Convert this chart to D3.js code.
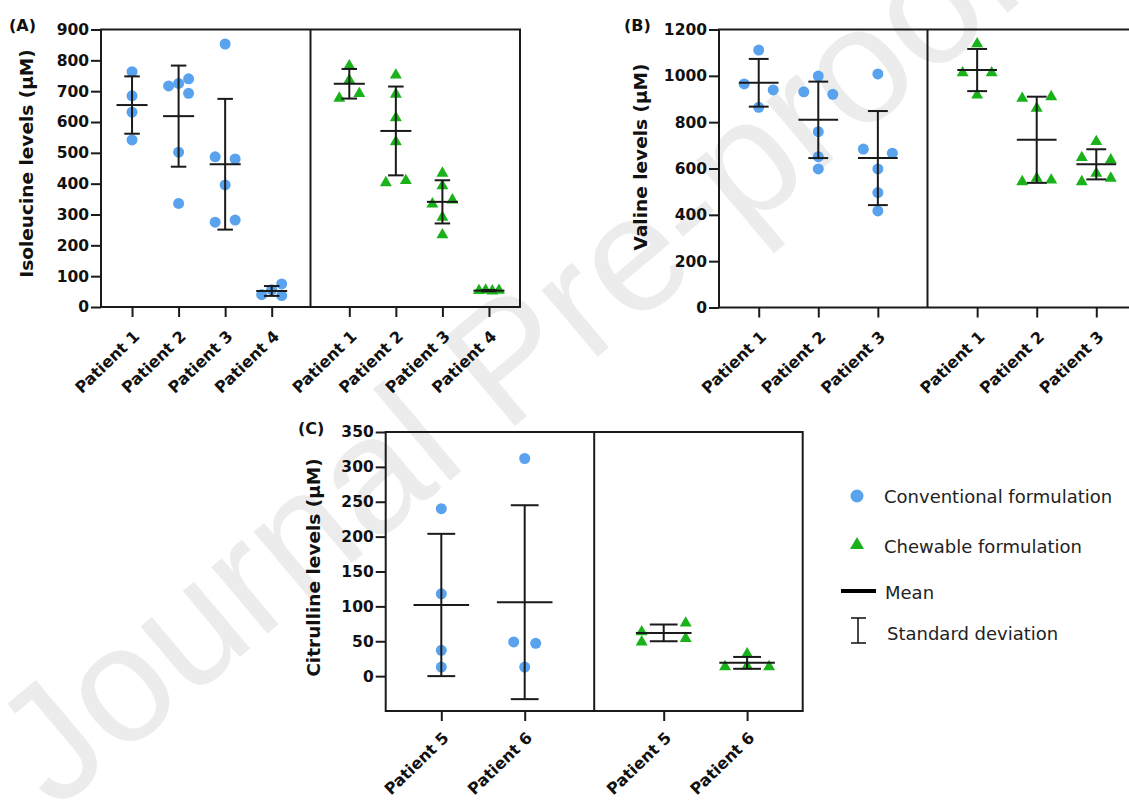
<!DOCTYPE html>
<html><head><meta charset="utf-8">
<script src="https://cdn.jsdelivr.net/npm/d3@7"></script>
<style>body{margin:0;background:#fff} svg{display:block}</style>
</head><body>
<svg id="chart" width="1129" height="800"></svg>
<script>
// ---------------- DATA ----------------
const patientsA = ["Patient 1","Patient 2","Patient 3","Patient 4"];
const isoConventional = [[763,685,632,542],[717,725,740,693,502,336],[853,487,480,396,275,282],[40,56,75,37]];
const isoConvMean = [655,619,463,52];
const isoConvSD = [93,164,212,16];
const isoChewable = [[782,736,677,692],[752,690,614,536,403,410],[434,393,334,347,291,234],[53,55,52,54]];
const isoChewMean = [724,571,341,53];
const isoChewSD = [48,144,70,2];
const isoTicks = [0,100,200,300,400,500,600,700,800,900];

const patientsB = ["Patient 1","Patient 2","Patient 3"];
const valConventional = [[1111,965,939,864],[999,931,920,759,651,598],[1008,684,666,598,496,417]];
const valConvMean = [970,810,645];
const valConvSD = [103,165,203];
const valChewable = [[1138,1013,1013,917],[903,910,860,543,558,550],[716,647,637,543,579,558]];
const valChewMean = [1025,724,618];
const valChewSD = [91,186,65];
const valTicks = [0,200,400,600,800,1000,1200];

const patientsC = ["Patient 5","Patient 6"];
const citConventional = [[240,118,37,13],[312,49,47,13]];
const citConvMean = [102,106];
const citConvSD = [102,139];
const citChewable = [[49,63.5,76,54],[13.4,14.3,32,13.4]];
const citChewMean = [62,19];
const citChewSD = [12,8.5];
const citTicks = [0,50,100,150,200,250,300,350];

const legendLabels = ["Conventional formulation","Chewable formulation","Mean","Standard deviation"];

// ---------------- STYLE ----------------
const BLUE = "#58a2ee", GREEN = "#1ab21a", INK = "#1a1a1a";
const svg = d3.select("#chart");

// watermark
svg.append("text")
  .attr("transform","translate(55,812) rotate(-40)")
  .attr("font-family","Liberation Sans, Arial, sans-serif")
  .attr("font-size",165)
  .attr("fill","#ececec")
  .text("Journal Pre-proof");

function swarm(values, y, step, D) {
  const pts = values.map((v,i)=>({v, i, py: y(v), off: 0}));
  const sorted = pts.slice().sort((a,b)=>a.py-b.py);
  const rows = [];
  let cur = null;
  sorted.forEach(p => {
    if (cur && p.py - cur.start < D) cur.items.push(p);
    else { cur = {start: p.py, items:[p]}; rows.push(cur); }
  });
  const placed = [];
  rows.forEach(r => {
    const items = r.items.sort((a,b)=>a.i-b.i);
    const n = items.length;
    if (n === 1) {
      const p = items[0];
      for (const c of [0, 1, -1, 2, -2]) {
        const ok = placed.every(q => Math.hypot(c*step - q.off, p.py - q.py) >= D);
        if (ok) { p.off = c*step; break; }
      }
    } else {
      items.forEach((p,k)=> p.off = -step + 2*step*k/(n-1));
    }
    items.forEach(p=>placed.push(p));
  });
  return pts;
}

function panel(c) {
  const g = svg.append("g");
  const xDiv = (c.x0 + c.x1)/2;
  const n = c.cats.length;
  const step = (xDiv - c.x0)/(n + 0.5);
  const xL = d3.scalePoint().domain(c.cats).range([c.x0 + step*2/3, c.x0 + step*2/3 + (n-1)*step]);
  const xR = d3.scalePoint().domain(c.cats).range([xDiv + step*5/6, xDiv + step*5/6 + (n-1)*step]);
  const y = d3.scaleLinear().domain(c.domain).range([c.yBottom, c.yTop]);

  // y axis
  const ya = g.append("g").attr("transform",`translate(${c.x0},0)`)
    .call(d3.axisLeft(y).tickValues(c.ticks).tickFormat(d3.format("d")).tickSize(10).tickPadding(2));
  ya.select(".domain").remove();
  ya.selectAll(".tick line").attr("stroke",INK).attr("stroke-width",2);
  ya.selectAll(".tick text").attr("font-family","DejaVu Sans, sans-serif")
    .attr("font-weight","bold").attr("font-size",15.5).attr("fill","#111");

  // x axes
  [xL, xR].forEach(xs => {
    const xa = g.append("g").attr("transform",`translate(0,${c.yBottom})`)
      .call(d3.axisBottom(xs).tickSize(10));
    xa.select(".domain").remove();
    xa.selectAll(".tick line").attr("stroke",INK).attr("stroke-width",2);
    xa.selectAll(".tick text")
      .attr("x",0).attr("y",0).attr("dy",0)
      .attr("text-anchor","end")
      .attr("transform",`translate(8,${c.labelDy}) rotate(-44)`)
      .attr("font-family","DejaVu Sans, sans-serif")
      .attr("font-weight","bold").attr("font-size",16).attr("fill","#111");
  });

  // box + divider
  g.append("rect").attr("x",c.x0).attr("y",c.yTop).attr("width",c.x1-c.x0).attr("height",c.yBottom-c.yTop)
    .attr("fill","none").attr("stroke",INK).attr("stroke-width",2);
  g.append("line").attr("x1",xDiv).attr("x2",xDiv).attr("y1",c.yTop).attr("y2",c.yBottom)
    .attr("stroke",INK).attr("stroke-width",2);

  // points
  const series = [
    {xs:xL, vals:c.conv, mean:c.convMean, sd:c.convSD, shape:"circle", jit:c.jitConv},
    {xs:xR, vals:c.chew, mean:c.chewMean, sd:c.chewSD, shape:"triangle", jit:c.jitChew}
  ];
  series.forEach(s => {
    c.cats.forEach((cat,ci) => {
      const cx = s.xs(cat);
      const pts = swarm(s.vals[ci], y, s.jit, 11);
      if (s.shape === "circle") {
        g.selectAll(null).data(pts).enter().append("circle")
          .attr("cx",d=>cx+d.off).attr("cy",d=>d.py).attr("r",5.5).attr("fill",BLUE);
      } else {
        g.selectAll(null).data(pts).enter().append("path")
          .attr("d", d3.symbol().type(d3.symbolTriangle).size(62)())
          .attr("transform",d=>`translate(${cx+d.off},${d.py})`).attr("fill",GREEN);
      }
    });
  });
  // mean and SD
  series.forEach(s => {
    c.cats.forEach((cat,ci) => {
      const cx = s.xs(cat), m = s.mean[ci], sd = s.sd[ci];
      const line = (x1,x2,y1,y2)=>g.append("line").attr("x1",x1).attr("x2",x2).attr("y1",y1).attr("y2",y2)
        .attr("stroke",INK).attr("stroke-width",2);
      line(cx, cx, y(m+sd), y(m-sd));
      line(cx-step/6, cx+step/6, y(m+sd), y(m+sd));
      line(cx-step/6, cx+step/6, y(m-sd), y(m-sd));
      line(cx-step/3, cx+step/3, y(m), y(m));
    });
  });

  // labels
  g.append("text").attr("transform",`translate(${c.ylabX},${c.ylabY}) rotate(-90)`)
    .attr("text-anchor","middle").attr("font-family","DejaVu Sans, sans-serif")
    .attr("font-weight","bold").attr("font-size",18.5).attr("fill","#111").text(c.ylabel);
  g.append("text").attr("x",c.tagX).attr("y",c.tagY)
    .attr("font-family","DejaVu Sans, sans-serif").attr("font-weight","bold")
    .attr("font-size",16).attr("fill","#111").text(c.tag);
}

panel({x0:101, x1:520, yTop:29.5, yBottom:307, domain:[0,900], ticks:isoTicks, cats:patientsA,
  conv:isoConventional, convMean:isoConvMean, convSD:isoConvSD,
  chew:isoChewable, chewMean:isoChewMean, chewSD:isoChewSD,
  jitConv:10, jitChew:10, labelDy:30.5,
  ylabel:"Isoleucine levels (µM)", ylabX:32.5, ylabY:163.5, tag:"(A)", tagX:9, tagY:31});

panel({x0:719, x1:1136, yTop:29.5, yBottom:307.5, domain:[0,1200], ticks:valTicks, cats:patientsB,
  conv:valConventional, convMean:valConvMean, convSD:valConvSD,
  chew:valChewable, chewMean:valChewMean, chewSD:valChewSD,
  jitConv:14.5, jitChew:14.5, labelDy:30.5,
  ylabel:"Valine levels (µM)", ylabX:646.5, ylabY:157, tag:"(B)", tagX:624, tagY:31});

panel({x0:385.7, x1:802.7, yTop:432, yBottom:711, domain:[-50,350], ticks:citTicks, cats:patientsC,
  conv:citConventional, convMean:citConvMean, convSD:citConvSD,
  chew:citChewable, chewMean:citChewMean, chewSD:citChewSD,
  jitConv:11, jitChew:22, labelDy:28,
  ylabel:"Citrulline levels (µM)", ylabX:319.5, ylabY:567.5, tag:"(C)", tagX:298, tagY:434});

// legend
const lg = svg.append("g");
lg.append("circle").attr("cx",857).attr("cy",496).attr("r",6.5).attr("fill",BLUE);
lg.append("path").attr("d", d3.symbol().type(d3.symbolTriangle).size(85)())
  .attr("transform","translate(857,545)").attr("fill",GREEN);
lg.append("line").attr("x1",841).attr("x2",876).attr("y1",591).attr("y2",591)
  .attr("stroke","#000").attr("stroke-width",4);
const sdl = (x1,x2,y1,y2)=>lg.append("line").attr("x1",x1).attr("x2",x2).attr("y1",y1).attr("y2",y2)
  .attr("stroke",INK).attr("stroke-width",1.6);
sdl(858,858,618,643); sdl(851,866,618,618); sdl(851,866,643,643);
const legY = [502.5, 552.5, 598.5, 639.5], legX = [884, 884, 885, 887];
lg.selectAll("text.leg").data(legendLabels).enter().append("text").attr("class","leg")
  .attr("x",(d,i)=>legX[i]).attr("y",(d,i)=>legY[i])
  .attr("font-family","DejaVu Sans, sans-serif").attr("font-size",18).attr("fill","#222").text(d=>d);
</script>
</body></html>
